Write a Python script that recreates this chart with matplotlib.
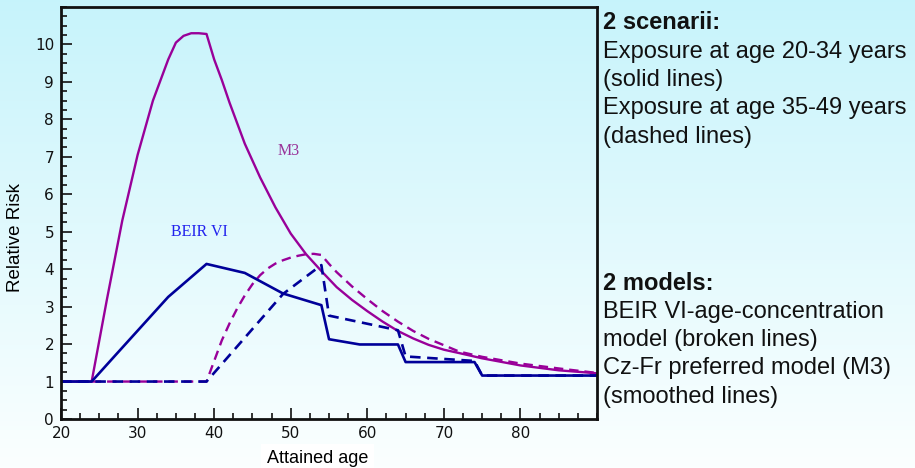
import numpy as np
import matplotlib
matplotlib.use('Agg')
import matplotlib.pyplot as plt
from matplotlib.ticker import MultipleLocator

# BEIR VI age-concentration model (broken lines)
beir_solid_age = [20, 24, 27, 34, 39, 44, 49, 54, 55, 59, 64, 65, 74, 75, 90]
beir_solid_rr = [1.0, 1.0, 1.68, 3.26, 4.14, 3.90, 3.35, 3.04, 2.13, 1.99, 1.99, 1.52, 1.52, 1.16, 1.16]
beir_dash_age = [20, 39, 49, 54, 55, 64, 65, 74, 75, 90]
beir_dash_rr = [1.0, 1.0, 3.34, 4.11, 2.76, 2.37, 1.67, 1.55, 1.16, 1.16]

# Cz-Fr preferred model M3 (smoothed lines)
m3_solid_age = [20, 24, 26, 28, 30, 32, 34, 35, 36, 37, 38, 39, 40, 41, 42, 44, 46, 48,
                50, 52, 54, 56, 58, 60, 62, 64, 66, 68, 70, 72, 75, 80, 85, 90]
m3_solid_rr = [1.0, 1.0, 3.2, 5.3, 7.05, 8.5, 9.6, 10.05, 10.23, 10.30, 10.30, 10.28,
               9.6, 9.05, 8.45, 7.35, 6.45, 5.65, 4.95, 4.4, 3.95, 3.52, 3.18, 2.88,
               2.6, 2.35, 2.15, 1.98, 1.85, 1.76, 1.62, 1.43, 1.30, 1.22]
m3_dash_age = [20, 39, 40, 41, 42, 43, 44, 45, 46, 47, 48, 49, 50, 51, 52, 53, 54, 55,
               56, 58, 60, 62, 64, 66, 68, 70, 72, 75, 80, 85, 90]
m3_dash_rr = [1.0, 1.0, 1.55, 2.1, 2.55, 2.95, 3.3, 3.6, 3.84, 4.02, 4.15, 4.24, 4.31,
              4.36, 4.40, 4.41, 4.38, 4.14, 3.92, 3.54, 3.2, 2.88, 2.6, 2.35, 2.14,
              1.97, 1.8, 1.66, 1.48, 1.35, 1.23]

magenta = '#990099'
navy = '#000099'

fig = plt.figure(figsize=(9.15, 4.68), dpi=100)

# light cyan to white background
bg = fig.add_axes([0, 0, 1, 1], zorder=-10)
top = np.array([0.78, 0.955, 0.985])
bottom = np.array([0.985, 1.0, 1.0])
t = np.linspace(0, 1, 256)[:, None]
grad = top * (1 - t) + bottom * t
bg.imshow(grad[:, None, :], aspect='auto', extent=[0, 1, 0, 1])
bg.axis('off')

ax = fig.add_axes([0.0667, 0.1047, 0.5858, 0.8803])
ax.set_facecolor('none')

ax.plot(m3_solid_age, m3_solid_rr, color=magenta, lw=1.7)
ax.plot(m3_dash_age, m3_dash_rr, color=magenta, lw=1.7, ls=(0, (4, 2.5)))
ax.plot(beir_solid_age, beir_solid_rr, color=navy, lw=1.9)
ax.plot(beir_dash_age, beir_dash_rr, color=navy, lw=1.9, ls=(0, (4, 2.5)))

ax.text(48.3, 7.15, 'M3', color='#993399', family='Liberation Serif', fontsize=11.5, va='center')
ax.text(34.3, 5.0, 'BEIR VI', color='#2222ee', family='Liberation Serif', fontsize=11.5, va='center')

ax.set_xlim(20, 90)
ax.set_ylim(0, 11)
ax.xaxis.set_major_locator(MultipleLocator(10))
ax.xaxis.set_minor_locator(MultipleLocator(2.5))
ax.yaxis.set_major_locator(MultipleLocator(1))
ax.yaxis.set_minor_locator(MultipleLocator(0.25))
ax.set_xticks([20, 30, 40, 50, 60, 70, 80])
ax.set_yticks(range(0, 11))
ax.tick_params(which='both', direction='in', width=1.3, colors='#222222', labelcolor='#111111')
ax.tick_params(which='major', length=8, labelsize=11, pad=5)
ax.tick_params(which='minor', length=4.5)
for lbl in ax.get_xticklabels() + ax.get_yticklabels():
    lbl.set_family(['Liberation Sans Narrow', 'DejaVu Sans Condensed'])
for s in ax.spines.values():
    s.set_linewidth(2)
    s.set_color('#111111')

ax.set_ylabel('Relative Risk', fontsize=13.5, family='Liberation Sans')
ax.yaxis.set_label_coords(-0.069, 0.44)
ax.set_xlabel('Attained age', fontsize=13, family='Liberation Sans',
              bbox=dict(facecolor='white', edgecolor='none', pad=4))
ax.xaxis.set_label_coords(0.478, -0.075)

# explanatory notes to the right of the plot
notes = [
    (0.952, '2 scenarii:', 'bold'),
    (0.889, 'Exposure at age 20-34 years', 'normal'),
    (0.829, '(solid lines)', 'normal'),
    (0.769, 'Exposure at age 35-49 years', 'normal'),
    (0.707, '(dashed lines)', 'normal'),
    (0.395, '2 models:', 'bold'),
    (0.333, 'BEIR VI-age-concentration', 'normal'),
    (0.274, 'model (broken lines)', 'normal'),
    (0.214, 'Cz-Fr preferred model (M3)', 'normal'),
    (0.152, '(smoothed lines)', 'normal'),
]
for y, s, w in notes:
    fig.text(0.659, y, s, fontsize=17, family='Liberation Sans', weight=w,
             va='center', ha='left', color='#111111')

fig.savefig('out.png', dpi=100)
